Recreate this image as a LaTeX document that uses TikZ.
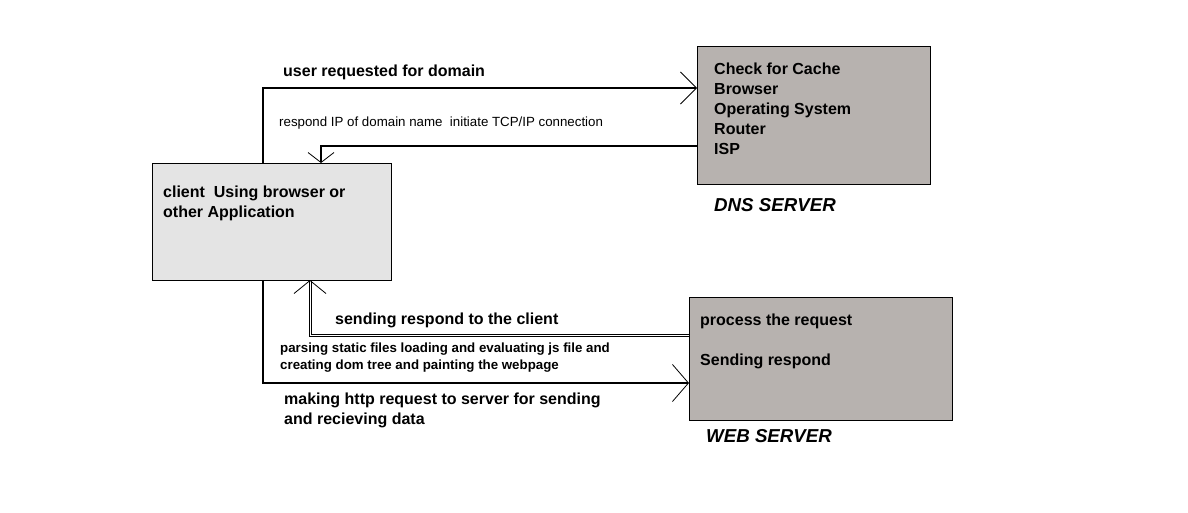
\documentclass[tikz,border=0pt]{standalone}
\usepackage{fontspec}
\setmainfont{Liberation Sans}
\usetikzlibrary{arrows.meta}
\definecolor{clientfill}{HTML}{E4E4E4}
\definecolor{serverfill}{HTML}{B7B2AF}
\tikzset{
  box/.style={draw=black, line width=0.8pt, inner sep=0pt},
  lbl/.style={anchor=base west, inner sep=0pt, align=left, font=\bfseries\fontsize{16}{20}\selectfont},
  small/.style={anchor=base west, inner sep=0pt, align=left, font=\fontsize{13.3}{17}\selectfont},
  smallb/.style={anchor=base west, inner sep=0pt, align=left, font=\bfseries\fontsize{13.3}{17}\selectfont},
  title/.style={anchor=base west, inner sep=0pt, font=\bfseries\itshape\fontsize{18.7}{22}\selectfont},
  conn/.style={line width=2pt},
}
\begin{document}
\begin{tikzpicture}[x=1pt,y=-1pt]
\useasboundingbox (0,0) rectangle (1188,512);
% boxes
\node[box, fill=clientfill, minimum width=239pt, minimum height=117pt, anchor=north west] (client) at (152,163) {};
\node[box, fill=serverfill, minimum width=233pt, minimum height=138pt, anchor=north west] (dns) at (697,46) {};
\node[box, fill=serverfill, minimum width=263pt, minimum height=123pt, anchor=north west] (web) at (689,297) {};
% coordinates
\coordinate (c1) at (263,163);
\coordinate (d1) at (697,88);
\coordinate (d2) at (697,146);
\coordinate (c2) at (321,163);
\coordinate (w1) at (689,335);
\coordinate (c3) at (310,280);
\coordinate (c4) at (263,280);
\coordinate (w2) at (689,383);
% connectors
\draw[conn, -{Straight Barb[length=16pt,width=32pt,line width=0.8pt]}] (c1) |- (d1);
\draw[conn, -{Straight Barb[length=10pt,width=26pt,line width=0.8pt]}] (d2) -| (c2);
\draw[line width=1pt, double, double distance=1pt, -{Straight Barb[length=13pt,width=32pt,line width=0.8pt]}] (w1) -| (c3);
\draw[conn, -{Straight Barb[length=16pt,width=37pt,line width=0.8pt]}] (c4) |- (w2);
% labels (multi-line nodes: base anchor is the last line)
\node[lbl] (t1) at (283,76) {user requested for domain};
\node[small] (t2) at (279,126) {respond IP of domain name\ \ initiate TCP/IP connection};
\node[lbl] (tc) at (163,217) {client\ \ Using browser or\\other Application};
\node[lbl] (td) at (714,154) {Check for Cache\\Browser\\Operating System\\Router\\ISP};
\node[title] (tdns) at (714,211) {DNS SERVER};
\node[lbl] (t3) at (335,324) {sending respond to the client};
\node[smallb] (t4) at (280,369) {parsing static files loading and evaluating js file and\\creating dom tree and painting the webpage};
\node[lbl] (t5) at (284,424) {making http request to server for sending\\and recieving data};
\node[lbl] (tw) at (700,365) {process the request\\[20pt]Sending respond};
\node[title] (tweb) at (706,442) {WEB SERVER};
\end{tikzpicture}
\end{document}
